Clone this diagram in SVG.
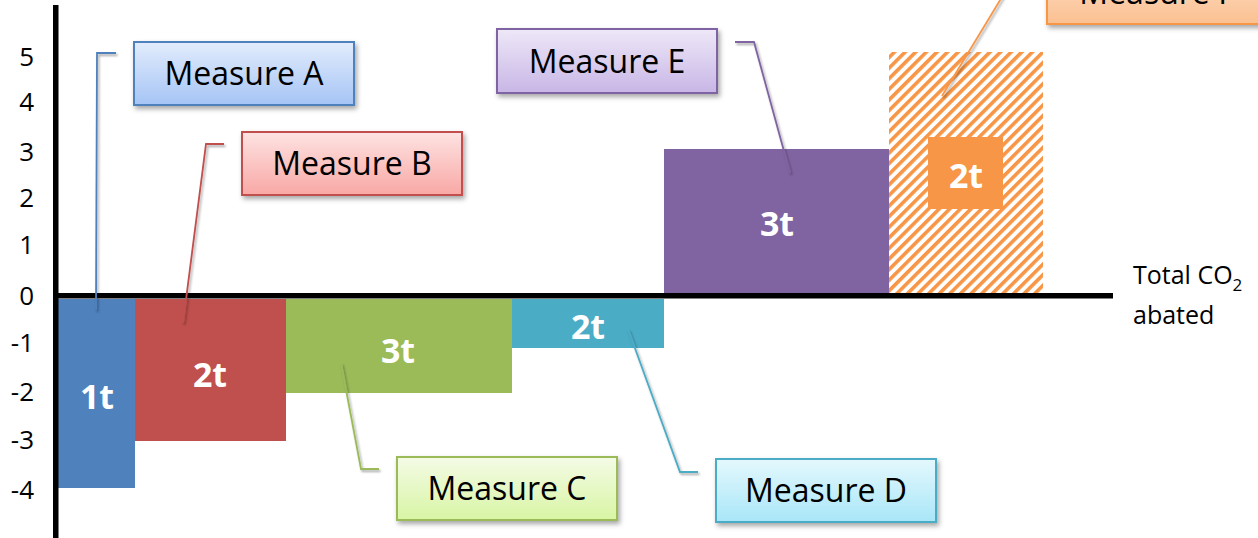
<svg xmlns="http://www.w3.org/2000/svg" width="1258" height="538" viewBox="0 0 1258 538">
<defs>
<style>
.tick{font-family:"Open Sans","Liberation Sans",sans-serif;font-size:26px;fill:#000;text-anchor:end}
.lbl{font-family:"Open Sans","Liberation Sans",sans-serif;font-size:32px;fill:#000;text-anchor:middle}
.val{font-family:"Open Sans","Liberation Sans",sans-serif;font-size:34px;font-weight:bold;fill:#fff;text-anchor:middle}
.axt{font-family:"Open Sans","Liberation Sans",sans-serif;font-size:25px;fill:#000}
.box{stroke-width:2;filter:url(#sh)}
.lead{fill:none;stroke-width:1.8;filter:url(#lsh)}
</style>
<filter id="sh" x="-10%" y="-20%" width="130%" height="160%">
<feDropShadow dx="2" dy="3" stdDeviation="2.5" flood-color="#000" flood-opacity="0.35"/>
</filter>
<filter id="lsh" x="-50%" y="-10%" width="200%" height="120%">
<feDropShadow dx="1.5" dy="2" stdDeviation="1.2" flood-color="#000" flood-opacity="0.35"/>
</filter>
<linearGradient id="gA" x1="0" y1="0" x2="0" y2="1"><stop offset="0" stop-color="#e2ecfc"/><stop offset="1" stop-color="#a5c4f5"/></linearGradient>
<linearGradient id="gB" x1="0" y1="0" x2="0" y2="1"><stop offset="0" stop-color="#fde3e2"/><stop offset="1" stop-color="#f8a8a5"/></linearGradient>
<linearGradient id="gC" x1="0" y1="0" x2="0" y2="1"><stop offset="0" stop-color="#f4fbe6"/><stop offset="1" stop-color="#d8f5a4"/></linearGradient>
<linearGradient id="gD" x1="0" y1="0" x2="0" y2="1"><stop offset="0" stop-color="#e4f8fd"/><stop offset="1" stop-color="#a9e6f8"/></linearGradient>
<linearGradient id="gE" x1="0" y1="0" x2="0" y2="1"><stop offset="0" stop-color="#eee8f8"/><stop offset="1" stop-color="#c8b6e6"/></linearGradient>
<linearGradient id="gF" x1="0" y1="0" x2="0" y2="1"><stop offset="0" stop-color="#fde2cf"/><stop offset="1" stop-color="#fbc090"/></linearGradient>
<pattern id="hatch" patternUnits="userSpaceOnUse" width="7.5" height="7.5" patternTransform="rotate(45)">
<rect width="7.5" height="7.5" fill="#fff"/>
<rect width="3.6" height="7.5" fill="#f79646"/>
</pattern>
</defs>
<rect width="1258" height="538" fill="#fff"/>

<g id="ticks">
<text class="tick" x="34" y="66">5</text>
<text class="tick" x="34" y="111">4</text>
<text class="tick" x="34" y="161">3</text>
<text class="tick" x="34" y="207">2</text>
<text class="tick" x="34" y="254">1</text>
<text class="tick" x="34" y="305">0</text>
<text class="tick" x="34" y="352">-1</text>
<text class="tick" x="34" y="401">-2</text>
<text class="tick" x="34" y="449">-3</text>
<text class="tick" x="34" y="499">-4</text>
</g>

<g id="barA"><rect x="58" y="299" width="77" height="189" fill="#4f81bd"/><text class="val" x="97" y="409">1t</text></g>
<g id="barB"><rect x="135" y="299" width="151" height="142" fill="#c0504d"/><text class="val" x="210" y="387">2t</text></g>
<g id="barC"><rect x="286" y="299" width="226" height="94" fill="#9bbb59"/><text class="val" x="398" y="363">3t</text></g>
<g id="barD"><rect x="512" y="299" width="152" height="49" fill="#4bacc6"/><text class="val" x="588" y="339">2t</text></g>
<g id="barE"><rect x="664" y="149" width="225" height="145" fill="#8064a2"/><text class="val" x="777" y="236">3t</text></g>
<g id="barF"><rect x="889" y="52" width="154" height="242" fill="url(#hatch)"/><rect x="928" y="137" width="75" height="72" fill="#f79646"/><text class="val" x="966" y="188">2t</text></g>

<g id="axes">
<rect x="53" y="293" width="1060" height="5.5" fill="#000"/>
<rect x="53" y="5" width="5.5" height="533" fill="#000"/>
<text class="axt" x="1133" y="284">Total CO<tspan font-size="17" dy="7">2</tspan></text>
<text class="axt" x="1133" y="324">abated</text>
</g>

<g id="connectors">
<polyline class="lead" stroke="#4f81bd" points="116,53 97,53 96,310"/>
<polyline class="lead" stroke="#c0504d" points="224,144 206,144 183,323"/>
<polyline class="lead" stroke="#9bbb59" points="379,469 361,469 341,363"/>
<polyline class="lead" stroke="#4bacc6" points="628,329 680,472 698,472"/>
<polyline class="lead" stroke="#8064a2" points="735,42 754,42 790,173"/>
<polyline class="lead" stroke="#f79646" points="1005,-8 942,96"/>
</g>

<g id="measureA"><rect class="box" x="134" y="42" width="220" height="63" fill="url(#gA)" stroke="#4f81bd"/><text class="lbl" x="244" y="85">Measure A</text></g>
<g id="measureB"><rect class="box" x="242" y="132" width="220" height="63" fill="url(#gB)" stroke="#c0504d"/><text class="lbl" x="352" y="175">Measure B</text></g>
<g id="measureC"><rect class="box" x="397" y="457" width="220" height="63" fill="url(#gC)" stroke="#9bbb59"/><text class="lbl" x="507" y="500">Measure C</text></g>
<g id="measureD"><rect class="box" x="716" y="459" width="220" height="63" fill="url(#gD)" stroke="#4bacc6"/><text class="lbl" x="826" y="502">Measure D</text></g>
<g id="measureE"><rect class="box" x="497" y="29" width="220" height="64" fill="url(#gE)" stroke="#8064a2"/><text class="lbl" x="607" y="73">Measure E</text></g>
<g id="measureF"><rect class="box" x="1047" y="-40" width="220" height="64" fill="url(#gF)" stroke="#f79646"/><text class="lbl" x="1157" y="4">Measure F</text></g>
</svg>
